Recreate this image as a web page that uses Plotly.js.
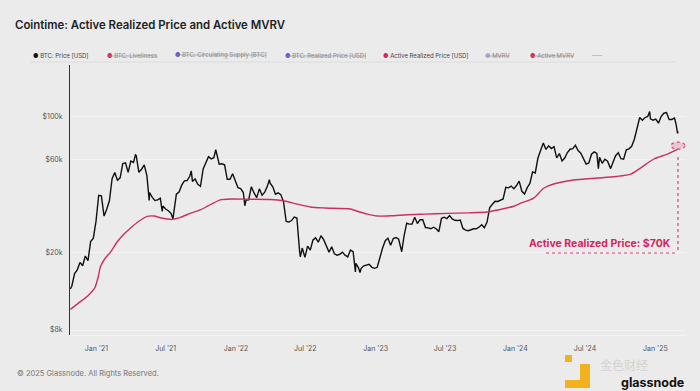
<!DOCTYPE html>
<html>
<head>
<meta charset="utf-8">
<script src="https://cdn.plot.ly/plotly-3.0.1.min.js"></script>
<style>
  html, body { margin: 0; padding: 0; background: #ebebeb; }
  #chart { width: 700px; height: 391px; }
</style>
</head>
<body>
<div id="chart"></div>
<script>
const priceDates = [
'2020-10-25','2020-10-29','2020-11-05','2020-11-12','2020-11-19','2020-11-26','2020-12-03','2020-12-10','2020-12-17','2020-12-24','2020-12-31',
'2021-01-07','2021-01-14','2021-01-21','2021-01-28','2021-02-04','2021-02-11','2021-02-18','2021-02-25','2021-03-04','2021-03-11','2021-03-18','2021-03-25',
'2021-04-01','2021-04-08','2021-04-13','2021-04-15','2021-04-22','2021-04-29','2021-05-06','2021-05-13','2021-05-19','2021-05-20','2021-05-27',
'2021-06-03','2021-06-10','2021-06-17','2021-06-22','2021-06-24','2021-07-01','2021-07-08','2021-07-15','2021-07-20','2021-07-22','2021-07-29',
'2021-08-05','2021-08-12','2021-08-19','2021-08-26','2021-09-02','2021-09-06','2021-09-09','2021-09-16','2021-09-23','2021-09-30',
'2021-10-07','2021-10-14','2021-10-21','2021-10-28','2021-11-04','2021-11-09','2021-11-11','2021-11-18','2021-11-25',
'2021-12-02','2021-12-09','2021-12-16','2021-12-23','2021-12-30',
'2022-01-06','2022-01-13','2022-01-20','2022-01-24','2022-01-27','2022-02-03','2022-02-10','2022-02-17','2022-02-24',
'2022-03-03','2022-03-10','2022-03-17','2022-03-24','2022-03-29','2022-03-31','2022-04-07','2022-04-14','2022-04-21','2022-04-28',
'2022-05-05','2022-05-12','2022-05-19','2022-05-26','2022-06-02','2022-06-09','2022-06-16','2022-06-18','2022-06-23','2022-06-30',
'2022-07-07','2022-07-14','2022-07-21','2022-07-28','2022-08-04','2022-08-11','2022-08-18','2022-08-25',
'2022-09-01','2022-09-08','2022-09-15','2022-09-22','2022-09-29','2022-10-06','2022-10-13','2022-10-20','2022-10-27',
'2022-11-03','2022-11-09','2022-11-10','2022-11-17','2022-11-21','2022-11-24','2022-12-01','2022-12-08','2022-12-15','2022-12-22','2022-12-29',
'2023-01-05','2023-01-12','2023-01-19','2023-01-26','2023-02-02','2023-02-09','2023-02-16','2023-02-23',
'2023-03-02','2023-03-10','2023-03-16','2023-03-23','2023-03-30','2023-04-06','2023-04-13','2023-04-20','2023-04-27',
'2023-05-04','2023-05-11','2023-05-18','2023-05-25','2023-06-01','2023-06-08','2023-06-15','2023-06-22','2023-06-29',
'2023-07-06','2023-07-13','2023-07-20','2023-07-27','2023-08-03','2023-08-10','2023-08-17','2023-08-24','2023-08-31',
'2023-09-07','2023-09-14','2023-09-21','2023-09-28','2023-10-05','2023-10-12','2023-10-19','2023-10-26',
'2023-11-02','2023-11-09','2023-11-16','2023-11-23','2023-11-30','2023-12-07','2023-12-14','2023-12-21','2023-12-28',
'2024-01-04','2024-01-11','2024-01-18','2024-01-25','2024-02-01','2024-02-08','2024-02-15','2024-02-22','2024-02-29',
'2024-03-07','2024-03-14','2024-03-21','2024-03-28','2024-04-04','2024-04-11','2024-04-18','2024-04-25',
'2024-05-02','2024-05-09','2024-05-16','2024-05-23','2024-05-30','2024-06-06','2024-06-13','2024-06-20','2024-06-27',
'2024-07-04','2024-07-11','2024-07-18','2024-07-25','2024-08-01','2024-08-05','2024-08-08','2024-08-15','2024-08-22','2024-08-29',
'2024-09-06','2024-09-12','2024-09-19','2024-09-26','2024-10-03','2024-10-10','2024-10-17','2024-10-24','2024-10-31',
'2024-11-07','2024-11-14','2024-11-21','2024-11-28','2024-12-05','2024-12-12','2024-12-17','2024-12-19','2024-12-26',
'2025-01-02','2025-01-09','2025-01-16','2025-01-20','2025-01-23','2025-01-30','2025-02-06','2025-02-13','2025-02-20',
'2025-02-24','2025-02-26','2025-02-28','2025-03-01'
];
const priceValues = [
13000,13500,15600,16300,17800,17100,19200,18200,22800,23700,29000,
39400,39100,30800,33400,36900,47900,51600,47000,48400,57300,57800,51700,
59000,58100,63500,63100,51700,53600,56400,49700,37000,40700,38400,
37000,37300,38100,32500,34700,33500,32800,31800,29800,32100,39900,
40900,44400,46700,46900,49300,52600,46400,47800,44900,43800,
53800,57400,62200,60600,61400,67500,64900,56900,57200,
56500,47600,47600,50800,47100,
43100,42600,40700,34800,37200,37300,43600,40500,38300,
42500,39400,40900,43900,47400,45500,43500,39900,40500,39700,
36500,28900,28700,29200,30400,30100,20400,19000,21100,18900,
21600,20600,23200,23800,22600,24400,23300,21400,
20100,21400,19700,19400,19600,20100,19400,19000,20600,
20200,15900,17600,16700,15800,16600,17100,17200,17400,16800,16600,
16800,18900,21100,23000,23700,21800,23600,23900,
23400,20200,24300,28300,28000,28000,30400,28200,29500,
29500,26900,26800,26500,27000,26500,25600,30000,30400,
29900,31000,29800,29300,29200,29400,26600,26100,25900,
26200,26500,26500,27000,27800,26800,28700,34100,
35400,36700,36600,37300,37700,43300,43000,43900,42600,
44200,46600,41300,40000,43100,45300,51900,51300,61200,
66900,73100,67800,70800,68500,70000,61300,64500,
59100,61200,65300,67900,68400,71100,66800,64800,60800,
57000,57700,64000,65800,64600,54000,61700,57500,60400,59000,
54000,58100,62900,65200,60700,60300,67400,68200,70300,
76500,87300,98900,95600,98800,100000,106000,97300,95800,
96900,92500,100000,102000,104000,104800,96600,96600,98300,
91400,84700,82000,84000
];

const arpDates = [
'2020-10-25','2020-11-15','2020-12-10','2020-12-28','2021-01-05','2021-01-12','2021-01-25','2021-02-06','2021-02-25',
'2021-03-15','2021-03-30','2021-04-20','2021-05-14','2021-06-01','2021-06-17','2021-07-18','2021-08-10','2021-09-03',
'2021-10-01','2021-10-18','2021-11-21','2021-12-20','2022-02-07','2022-04-01','2022-05-05','2022-06-10','2022-07-14',
'2022-08-20','2022-10-27','2022-11-14','2022-12-10','2023-01-06','2023-02-10','2023-03-25','2023-05-10','2023-07-07',
'2023-09-01','2023-10-20','2023-11-20','2023-12-28','2024-01-15','2024-02-18','2024-03-15','2024-04-10','2024-06-01',
'2024-08-03','2024-09-20','2024-10-29','2024-11-24','2024-12-28','2025-02-03','2025-03-01'
];
const arpValues = [
10200,11000,12000,13200,14800,17000,18800,20000,22800,
25000,26600,28800,30700,30800,30200,29600,30400,31800,
33200,34600,37300,37700,37600,37500,36900,35500,34300,
33900,33500,32600,31500,30800,30900,31300,31500,31800,
32000,32300,33200,34600,35900,38100,42800,45000,47200,
48300,49200,50600,54500,60500,64300,68000
];

const yTickVals = [8000, 20000, 60000, 100000];
const yTickText = ['$8k', '$20k', '$60k', '$100k'];
const xTickVals = ['2021-01-01','2021-07-01','2022-01-01','2022-07-01','2023-01-01','2023-07-01','2024-01-01','2024-07-01','2025-01-01'];
const xTickText = ["Jan '21","Jul '21","Jan '22","Jul '22","Jan '23","Jul '23","Jan '24","Jul '24","Jan '25"];

const legendItems = [
  {label: 'BTC: Price [USD]', color: '#111111', off: false, px: 31},
  {label: 'BTC: Liveliness', color: '#e0245e', off: true, px: 105},
  {label: 'BTC: Circulating Supply [BTC]', color: '#5b5bd6', off: true, px: 173},
  {label: 'BTC: Realized Price [USD]', color: '#5b5bd6', off: true, px: 283},
  {label: 'Active Realized Price [USD]', color: '#d6245e', off: false, px: 381},
  {label: 'MVRV', color: '#a9a9e8', off: true, px: 483},
  {label: 'Active MVRV', color: '#d6245e', off: true, px: 528}
];

const lastDate = arpDates[arpDates.length - 1];
const lastArp = arpValues[arpValues.length - 1];

const L = 70, R = 686, T = 65, B = 335, W = 700, H = 391;
const px2paperX = p => (p - L) / (R - L);
const px2paperY = p => (B - p) / (B - T);

const traces = [
  {
    x: priceDates, y: priceValues, type: 'scatter', mode: 'lines',
    line: {color: '#111111', width: 1.4}, hoverinfo: 'skip', name: 'BTC: Price [USD]'
  },
  {
    x: arpDates, y: arpValues, type: 'scatter', mode: 'lines',
    line: {color: '#c9305e', width: 1.4, shape: 'spline', smoothing: 0.6}, hoverinfo: 'skip', name: 'Active Realized Price [USD]'
  }
];

const annotations = [];
legendItems.forEach(it => {
  let txt = `<span style="color:${it.color}">●</span> ${it.label}`;
  if (it.off) txt = `<s>${txt}</s>`;
  annotations.push({
    xref: 'paper', yref: 'paper', x: px2paperX(it.px), y: px2paperY(55),
    xanchor: 'left', yanchor: 'middle', showarrow: false, text: txt,
    font: {family: 'Inter, sans-serif', size: 6, color: it.off ? '#8a8a8a' : '#444444'}
  });
});
annotations.push({
  xref: 'paper', yref: 'paper', x: px2paperX(590), y: px2paperY(55),
  xanchor: 'left', yanchor: 'middle', showarrow: false, text: '——',
  font: {family: 'Inter, sans-serif', size: 5, color: '#8a8a8a'}
});
annotations.push({
  xref: 'paper', yref: 'paper', x: px2paperX(673), y: px2paperY(243),
  xanchor: 'right', yanchor: 'middle', showarrow: false,
  text: '<b>Active Realized Price: $70K</b>',
  font: {family: 'Inter, sans-serif', size: 10.5, color: '#d0255f'}
});
annotations.push({
  xref: 'paper', yref: 'paper', x: px2paperX(15), y: px2paperY(373),
  xanchor: 'left', yanchor: 'middle', showarrow: false,
  text: '© 2025 Glassnode. All Rights Reserved.',
  font: {family: 'Inter, sans-serif', size: 7.5, color: '#777777'}
});
annotations.push({
  xref: 'paper', yref: 'paper', x: px2paperX(598), y: px2paperY(364),
  xanchor: 'left', yanchor: 'middle', showarrow: false,
  text: '金色财经',
  font: {family: 'Noto Sans CJK SC, sans-serif', size: 12, color: 'rgba(205,205,205,0.85)'}
});
annotations.push({
  xref: 'paper', yref: 'paper', x: px2paperX(686), y: px2paperY(382),
  xanchor: 'right', yanchor: 'middle', showarrow: false,
  text: '<b>glassnode</b>',
  font: {family: 'Inter, sans-serif', size: 12.5, color: '#111111'}
});

const shapes = [
  {type: 'line', xref: 'paper', yref: 'paper', x0: px2paperX(30), x1: px2paperX(676), y0: px2paperY(62), y1: px2paperY(62),
   line: {color: '#dcdcdc', width: 1}},
  {type: 'line', xref: 'x', yref: 'paper', x0: lastDate, x1: lastDate, y0: px2paperY(157), y1: px2paperY(253),
   line: {color: '#d6457a', width: 1.2, dash: 'dot'}},
  {type: 'line', xref: 'paper', yref: 'paper', x0: px2paperX(546), x1: px2paperX(677), y0: px2paperY(253), y1: px2paperY(253),
   line: {color: '#d6457a', width: 1.2, dash: 'dot'}},
  {type: 'circle', xref: 'x', yref: 'y', xsizemode: 'pixel', ysizemode: 'pixel',
   xanchor: lastDate, yanchor: lastArp, x0: -7, x1: 7, y0: -7, y1: 7,
   fillcolor: 'rgba(235,110,155,0.3)', line: {color: '#d6457a', width: 1.2, dash: 'dot'}},
  {type: 'rect', xref: 'paper', yref: 'paper', x0: px2paperX(565), x1: px2paperX(572), y0: px2paperY(362), y1: px2paperY(355),
   fillcolor: '#f2b21c', line: {width: 0}},
  {type: 'rect', xref: 'paper', yref: 'paper', x0: px2paperX(565), x1: px2paperX(590), y0: px2paperY(388), y1: px2paperY(364),
   fillcolor: '#f2b21c', line: {width: 0}},
  {type: 'rect', xref: 'paper', yref: 'paper', x0: px2paperX(565), x1: px2paperX(580), y0: px2paperY(380), y1: px2paperY(364),
   fillcolor: '#ebebeb', line: {width: 0}}
];

const layout = {
  width: W, height: H,
  paper_bgcolor: '#ebebeb', plot_bgcolor: '#ebebeb',
  margin: {l: L, r: W - R, t: T, b: H - B, pad: 0},
  showlegend: false,
  title: {
    text: 'Cointime: Active Realized Price and Active MVRV',
    x: 15 / W, xanchor: 'left', xref: 'container',
    y: 1 - 25 / H, yanchor: 'middle', yref: 'container',
    font: {family: 'Inter, sans-serif', size: 11.4, color: '#222222', weight: 600}
  },
  xaxis: {
    type: 'date', range: ['2020-10-24', '2025-03-22'],
    tickvals: xTickVals, ticktext: xTickText,
    showgrid: false, zeroline: false,
    showline: true, linecolor: '#f4f4f4', linewidth: 1,
    ticks: 'outside', ticklen: 7, tickcolor: 'rgba(0,0,0,0)',
    tickfont: {family: 'Inter, sans-serif', size: 7, color: '#555555'}
  },
  yaxis: {
    type: 'log', range: [Math.log10(7540), Math.log10(184000)],
    tickvals: yTickVals, ticktext: yTickText,
    showgrid: true, gridcolor: '#f3f3f3', gridwidth: 1, zeroline: false,
    showline: true, linecolor: '#333333', linewidth: 1,
    ticks: 'outside', ticklen: 5, tickcolor: 'rgba(0,0,0,0)',
    tickfont: {family: 'Inter, sans-serif', size: 7, color: '#555555'}
  },
  annotations: annotations,
  shapes: shapes
};

Plotly.newPlot('chart', traces, layout, {displayModeBar: false, staticPlot: true});
</script>
</body>
</html>
